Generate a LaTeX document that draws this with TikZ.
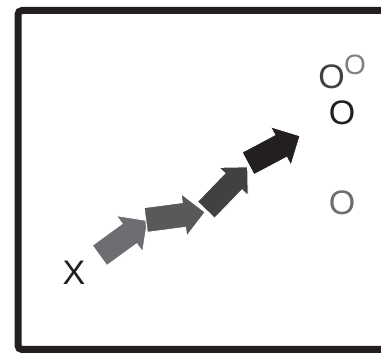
\documentclass[tikz,border=0pt]{standalone}
\usepackage{fontspec}
\setmainfont{Liberation Sans}
\definecolor{gA}{HTML}{6D6E71}
\definecolor{gB}{HTML}{58595B}
\definecolor{gC}{HTML}{414042}
\definecolor{gD}{HTML}{231F20}
\definecolor{gL}{HTML}{808285}
\newcommand\blockarrow[7]{% #1 tail centre, #2 angle, #3 shaft length, #4 shaft width, #5 head half width, #6 colour, #7 name
  \begin{scope}[shift={#1},rotate=#2]
    \fill[#6,draw=white,line width=1pt,line join=miter]
      (0,-#4/2) -- (#3,-#4/2) -- (#3,-#5) -- ({#3+#5},0) coordinate (#7-tip)
      -- (#3,#5) -- (#3,#4/2) -- (0,#4/2) -- cycle;
    \coordinate (#7-tail) at (0,0);
  \end{scope}}
\tikzset{lbl/.style={inner sep=0pt,font=\fontsize{34}{40}\selectfont},
  lblsm/.style={inner sep=0pt,font=\fontsize{28}{32}\selectfont}}
\begin{document}
\begin{tikzpicture}[x=1pt,y=1pt]
\useasboundingbox (0,0) rectangle (381,353);
\fill[white] (0,0) rectangle (381,353);
\begin{scope}
\clip (0,0) rectangle (381,353);
\draw[gD,line width=7pt,rounded corners=4pt] (18,3.5) rectangle (400,342.5);
\end{scope}
\blockarrow{(99.5,97.5)}{36}{37}{25}{22.5}{gA}{a1}
\blockarrow{(145.7,133)}{7.5}{38.5}{25}{21.5}{gB}{a2}
\blockarrow{(206,143)}{46}{39.5}{24}{20.5}{gC}{a3}
\blockarrow{(248,189.5)}{28}{37}{25.5}{22}{gD}{a4}
\node[lbl,text=gD] (x) at (74,80) {X};
\node[lbl,text=gC] (o1) at (331.5,276.5) {O};
\node[lblsm,text=gL] (o2) at (355,288.5) {O};
\node[lbl,text=gD] (o3) at (342,240) {O};
\node[lbl,text=gA] (o4) at (342,150) {O};
\end{tikzpicture}
\end{document}
